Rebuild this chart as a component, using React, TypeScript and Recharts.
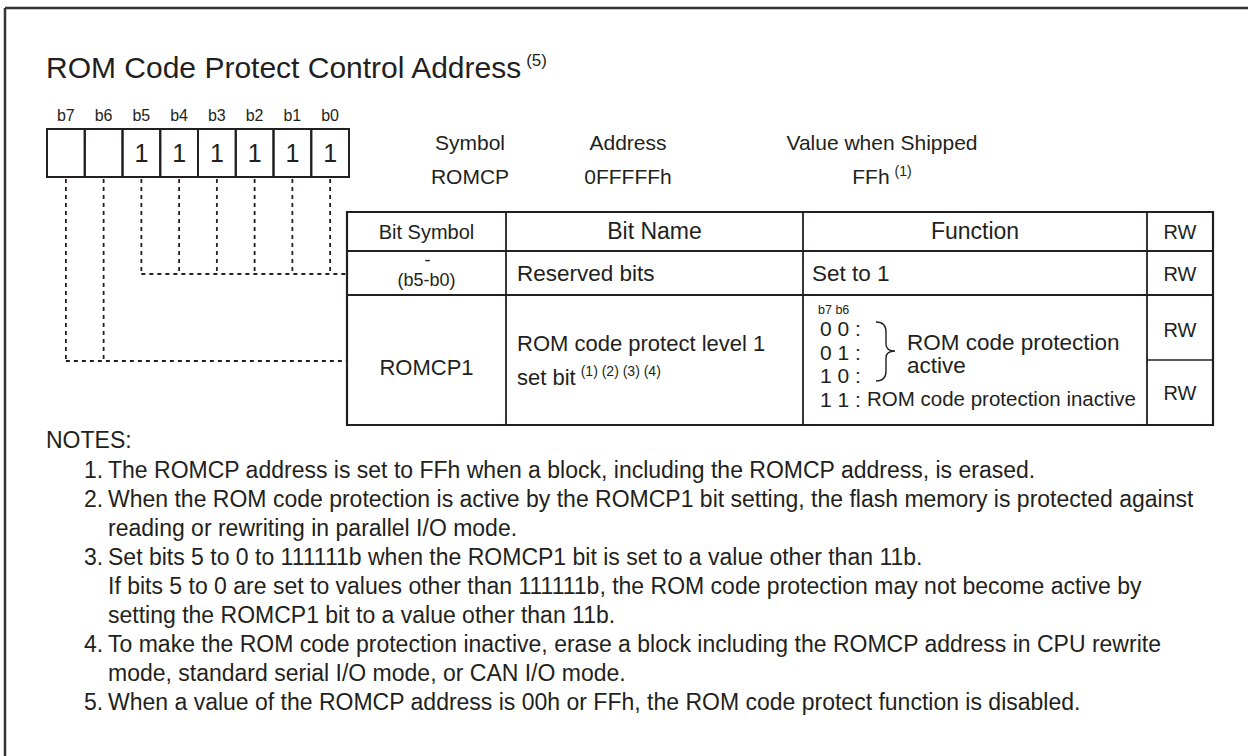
import React from "react";
import {
  ComposedChart,
  XAxis,
  YAxis,
  Scatter,
  ReferenceLine,
  ReferenceArea,
} from "recharts";

const W = 1248;
const H = 756;
const INK = "#231f20";
const FONT = '"Liberation Sans", Arial, Helvetica, sans-serif';

// ---- content ----
const title = "ROM Code Protect Control Address";
const titleNote = "(5)";
const bitLabels = ["b7", "b6", "b5", "b4", "b3", "b2", "b1", "b0"];
const bitValues = ["", "", "1", "1", "1", "1", "1", "1"];
const infoHeads = ["Symbol", "Address", "Value when Shipped"];
const infoValues = ["ROMCP", "0FFFFFh", "FFh"];
const infoNotes = ["", "", "(1)"];
const tableHeads = ["Bit Symbol", "Bit Name", "Function", "RW"];
const reservedRow = ["(b5-b0)", "Reserved bits", "Set to 1", "RW"];
const romcpSymbol = "ROMCP1";
const romcpName = ["ROM code protect level 1", "set bit"];
const romcpNameNotes = "(1) (2) (3) (4)";
const romcpBitsHead = "b7 b6";
const romcpCodes = ["0 0 :", "0 1 :", "1 0 :", "1 1 :"];
const romcpActive = ["ROM code protection", "active"];
const romcpInactive = "ROM code protection inactive";
const romcpRw = ["RW", "RW"];
const notesTitle = "NOTES:";
const notes = [
  ["The ROMCP address is set to FFh when a block, including the ROMCP address, is erased."],
  [
    "When the ROM code protection is active by the ROMCP1 bit setting, the flash memory is protected against",
    "reading or rewriting in parallel I/O mode.",
  ],
  [
    "Set bits 5 to 0 to 111111b when the ROMCP1 bit is set to a value other than 11b.",
    "If bits 5 to 0 are set to values other than 111111b, the ROM code protection may not become active by",
    "setting the ROMCP1 bit to a value other than 11b.",
  ],
  [
    "To make the ROM code protection inactive, erase a block including the ROMCP address in CPU rewrite",
    "mode, standard serial I/O mode, or CAN I/O mode.",
  ],
  ["When a value of the ROMCP address is 00h or FFh, the ROM code protect function is disabled."],
];

// ---- layout ----
const FRAME = { x: 5, y: 8 };
const REG = { x: 47, y: 129, cell: 37.75, h: 48 };
const COLS = [347, 506, 803, 1147, 1213];
const ROWS = [212, 251, 295, 425];
const RW_SPLIT = 360;
const LEAD_LOW = 274;
const LEAD_HIGH = 361;
const INFO_X = [470, 628, 882];
const NOTE_TOP = 478;
const NOTE_STEP = 29;

type Label = {
  x: number;
  y: number;
  text: string;
  size: number;
  anchor?: "start" | "middle" | "end";
  sup?: string;
  supSize?: number;
  kind?: "brace";
};

const bitX = (i: number) => REG.x + REG.cell * (i + 0.5);
const colMid = (i: number) => (COLS[i] + COLS[i + 1]) / 2;

const labels: Label[] = [];
labels.push({ x: 46, y: 78, text: title, size: 30, sup: titleNote, supSize: 17 });
bitLabels.forEach((b, i) =>
  labels.push({ x: bitX(i), y: 121, text: b, size: 16, anchor: "middle" })
);
bitValues.forEach((v, i) => {
  if (v) labels.push({ x: bitX(i), y: 162, text: v, size: 25, anchor: "middle" });
});
infoHeads.forEach((h, i) => {
  labels.push({ x: INFO_X[i], y: 150, text: h, size: 21, anchor: "middle" });
  labels.push({
    x: INFO_X[i],
    y: 184,
    text: infoValues[i],
    size: 21,
    anchor: "middle",
    sup: infoNotes[i] || undefined,
    supSize: 14,
  });
});
tableHeads.forEach((h, i) =>
  labels.push({
    x: colMid(i),
    y: 239,
    text: h,
    size: i === 1 || i === 2 ? 23 : 20,
    anchor: "middle",
  })
);
// reserved row
labels.push({ x: colMid(0) + 1, y: 266, text: "-", size: 18, anchor: "middle" });
labels.push({ x: colMid(0), y: 286, text: reservedRow[0], size: 18, anchor: "middle" });
labels.push({ x: COLS[1] + 11, y: 281, text: reservedRow[1], size: 22.5 });
labels.push({ x: COLS[2] + 9, y: 281, text: reservedRow[2], size: 22.5 });
labels.push({ x: colMid(3), y: 281, text: reservedRow[3], size: 20, anchor: "middle" });
// ROMCP1 row
labels.push({ x: colMid(0), y: 375, text: romcpSymbol, size: 22, anchor: "middle" });
labels.push({ x: COLS[1] + 11, y: 351, text: romcpName[0], size: 22 });
labels.push({
  x: COLS[1] + 11,
  y: 385,
  text: romcpName[1],
  size: 22,
  sup: romcpNameNotes,
  supSize: 14,
});
labels.push({ x: COLS[2] + 15, y: 314, text: romcpBitsHead, size: 12.5 });
romcpCodes.forEach((c, i) =>
  labels.push({ x: COLS[2] + 17, y: 336 + i * 23.5, text: c, size: 21 })
);
labels.push({ x: COLS[2] + 104, y: 350, text: romcpActive[0], size: 22.5 });
labels.push({ x: COLS[2] + 104, y: 373, text: romcpActive[1], size: 22.5 });
labels.push({ x: COLS[2] + 64, y: 406, text: romcpInactive, size: 20.5 });
labels.push({ x: colMid(3), y: 337, text: romcpRw[0], size: 20, anchor: "middle" });
labels.push({ x: colMid(3), y: 400, text: romcpRw[1], size: 20, anchor: "middle" });
labels.push({ x: COLS[2] + 80, y: 351, text: "", size: 0, kind: "brace" });
// notes
labels.push({ x: 46, y: 448, text: notesTitle, size: 23 });
let line = 0;
notes.forEach((n, i) => {
  n.forEach((t, j) => {
    const y = NOTE_TOP + line * NOTE_STEP;
    if (j === 0) labels.push({ x: 84, y, text: `${i + 1}.`, size: 23 });
    labels.push({ x: 108, y, text: t, size: 23 });
    line += 1;
  });
});

const TextMark = (props: any) => {
  const p: Label = props.payload ?? props;
  const { cx, cy } = props;
  if (p.kind === "brace") {
    const top = cy - 29;
    const bot = cy + 30;
    const x0 = cx - 7;
    const xm = cx + 3;
    const x1 = cx + 12;
    const d = `M${x0},${top} Q${xm},${top} ${xm},${top + 10} L${xm},${cy - 7} Q${xm},${cy} ${x1},${cy} Q${xm},${cy} ${xm},${cy + 7} L${xm},${bot - 10} Q${xm},${bot} ${x0},${bot}`;
    return <path d={d} fill="none" stroke={INK} strokeWidth={1.4} />;
  }
  return (
    <text
      x={cx}
      y={cy}
      fill={INK}
      fontFamily={FONT}
      fontSize={p.size}
      textAnchor={p.anchor ?? "start"}
    >
      {p.text}
      {p.sup ? (
        <tspan dx={5} dy={-p.size * 0.4} fontSize={p.supSize}>
          {p.sup}
        </tspan>
      ) : null}
    </text>
  );
};

const seg = (x1: number, y1: number, x2: number, y2: number) => [
  { x: x1, y: y1 },
  { x: x2, y: y2 },
];

export default function App() {
  const regBottom = REG.y + REG.h;
  return (
    <div style={{ position: "absolute", left: 0, top: 0, width: W, height: H, background: "#fff" }}>
      <ComposedChart width={W} height={H} margin={{ top: 0, right: 0, bottom: 0, left: 0 }}>
        <XAxis type="number" dataKey="x" domain={[0, W]} hide allowDataOverflow />
        <YAxis type="number" dataKey="y" domain={[0, H]} reversed hide allowDataOverflow />

        {/* outer frame */}
        <ReferenceLine segment={seg(FRAME.x, FRAME.y, W, FRAME.y)} stroke="#333" strokeWidth={2.5} ifOverflow="visible" />
        <ReferenceLine segment={seg(FRAME.x, FRAME.y, FRAME.x, H)} stroke="#333" strokeWidth={2.5} ifOverflow="visible" />

        {/* register cells */}
        {bitLabels.map((b, i) => (
          <ReferenceArea
            key={b}
            x1={REG.x + REG.cell * i}
            x2={REG.x + REG.cell * (i + 1)}
            y1={REG.y}
            y2={regBottom}
            fill="none"
            stroke={INK}
            strokeWidth={2}
            ifOverflow="visible"
          />
        ))}

        {/* leader lines */}
        {bitLabels.map((b, i) => (
          <ReferenceLine
            key={`lead-${b}`}
            segment={seg(bitX(i), regBottom + 2, bitX(i), i < 2 ? LEAD_HIGH : LEAD_LOW)}
            stroke={INK}
            strokeWidth={1.8}
            strokeDasharray="4 4"
            ifOverflow="visible"
          />
        ))}
        <ReferenceLine segment={seg(bitX(2), LEAD_LOW, COLS[0], LEAD_LOW)} stroke={INK} strokeWidth={1.8} strokeDasharray="4 4" ifOverflow="visible" />
        <ReferenceLine segment={seg(bitX(0), LEAD_HIGH, COLS[0], LEAD_HIGH)} stroke={INK} strokeWidth={1.8} strokeDasharray="4 4" ifOverflow="visible" />

        {/* table */}
        <ReferenceArea x1={COLS[0]} x2={COLS[4]} y1={ROWS[0]} y2={ROWS[3]} fill="none" stroke={INK} strokeWidth={2.2} ifOverflow="visible" />
        {ROWS.slice(1, 3).map((r) => (
          <ReferenceLine key={`row-${r}`} segment={seg(COLS[0], r, COLS[4], r)} stroke={INK} strokeWidth={1.8} ifOverflow="visible" />
        ))}
        {COLS.slice(1, 4).map((c) => (
          <ReferenceLine key={`col-${c}`} segment={seg(c, ROWS[0], c, ROWS[3])} stroke={INK} strokeWidth={1.8} ifOverflow="visible" />
        ))}
        <ReferenceLine segment={seg(COLS[3], RW_SPLIT, COLS[4], RW_SPLIT)} stroke={INK} strokeWidth={1.5} ifOverflow="visible" />

        <Scatter data={labels} shape={TextMark} isAnimationActive={false} />
      </ComposedChart>
    </div>
  );
}
